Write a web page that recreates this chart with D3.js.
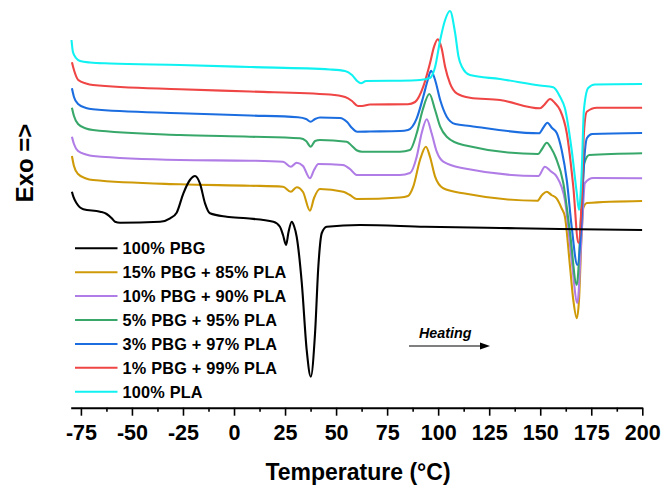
<!DOCTYPE html>
<html>
<head>
<meta charset="utf-8">
<script src="https://cdn.jsdelivr.net/npm/d3@7"></script>
<style>
  html, body { margin: 0; padding: 0; background: #fff; }
  svg { display: block; font-family: "Liberation Sans", Arial, sans-serif; }
</style>
</head>
<body>
<svg id="chart" width="664" height="489"></svg>
<script>
// ---- Data: temperature (°C) vs. heat flow (arbitrary, shifted units) ----
const pbg100 = [[-79.4,21.63],[-78.7,21.13],[-77.1,20.47],[-73.8,19.87],[-65.6,19.63],[-62.4,19.4],[-59.9,18.97],[-58.3,18.63],[-55.8,18.53],[-36.2,18.63],[-31.3,18.97],[-28.1,19.53],[-24.8,21.47],[-21.6,22.8],[-19.1,23.2],[-16.7,22.47],[-14.2,20.47],[-11.8,19.47],[-3.6,19.13],[6.2,18.97],[19.3,18.63],[22.5,18.13],[24.0,17.3],[25.5,16.3],[26.7,17.6],[28.3,18.63],[29.4,18.2],[30.7,17.13],[33.2,12.5],[35.6,5.8],[37.6,3.13],[39.7,7.5],[41.3,14.13],[43.0,17.5],[45.4,18.13],[61.7,18.3],[93.6,18.13],[130.3,18.0],[159.7,17.9],[199.9,17.8]];
const pbg15 = [[-79.4,25.2],[-78.4,24.2],[-76.4,23.4],[-72.5,22.95],[-69.1,22.8],[-26.5,22.37],[7.8,22.23],[24.0,22.13],[27.8,21.63],[30.7,22.07],[33.8,21.6],[37.2,19.73],[39.2,21.0],[42.1,21.9],[53.5,21.63],[56.8,21.3],[60.1,20.9],[81.3,21.05],[85.2,21.2],[87.8,22.13],[91.1,24.8],[94.0,26.13],[96.0,25.13],[98.5,23.13],[102.5,21.97],[112.3,21.47],[148.6,20.73],[150.9,21.3],[153.2,21.63],[155.5,21.3],[158.0,20.97],[160.5,19.97],[162.1,19.13],[164.6,14.13],[166.2,10.8],[167.9,8.97],[169.0,10.8],[170.3,17.5],[171.1,20.0],[172.9,20.5],[199.9,20.7]];
const pbg10 = [[-79.4,27.13],[-78.4,26.4],[-76.4,25.7],[-72.5,25.35],[-69.1,25.2],[-26.5,24.8],[7.8,24.73],[24.0,24.63],[27.8,24.13],[30.7,24.53],[33.8,24.2],[37.2,22.97],[39.2,23.8],[41.3,24.4],[53.4,24.3],[56.8,23.9],[60.1,23.3],[81.3,23.3],[86.2,23.5],[89.5,25.13],[91.9,27.47],[94.4,28.87],[96.8,27.47],[99.3,25.63],[102.5,24.63],[112.3,23.97],[149.1,23.2],[152.3,24.13],[155.0,23.7],[158.1,23.13],[162.1,20.8],[165.4,14.8],[168.2,10.5],[170.3,17.5],[171.9,22.5],[175.9,23.0],[199.9,22.97]];
const pbg5 = [[-79.4,30.03],[-78.4,29.2],[-76.4,28.4],[-72.5,27.95],[-69.1,27.8],[-26.5,27.3],[7.8,27.13],[32.3,26.97],[35.3,26.7],[37.6,26.13],[39.7,26.7],[42.1,26.8],[55.2,26.63],[57.8,26.2],[60.3,25.75],[62.7,25.63],[81.3,25.63],[86.2,25.8],[89.5,27.47],[92.4,29.8],[95.7,31.4],[98.5,29.8],[101.0,28.13],[104.2,27.13],[112.3,26.3],[148.9,25.4],[150.9,25.9],[153.2,26.53],[155.3,26.0],[157.7,25.0],[161.3,22.5],[164.6,17.5],[167.9,12.3],[170.0,19.13],[171.6,24.47],[174.0,25.3],[199.9,25.47]];
const pbg3 = [[-79.4,31.97],[-78.4,31.1],[-76.4,30.4],[-72.5,30.0],[-69.1,29.87],[-26.5,29.47],[7.8,29.25],[31.3,29.07],[35.3,28.9],[37.5,28.63],[39.7,28.9],[42.1,29.05],[51.9,29.0],[55.4,28.6],[57.8,28.0],[60.3,27.63],[66.6,27.65],[81.3,27.7],[85.2,27.8],[89.5,28.97],[92.7,31.13],[94.9,32.8],[96.5,33.73],[98.5,32.8],[101.0,30.8],[104.2,29.13],[108.3,28.4],[115.6,28.2],[149.4,27.47],[151.4,28.0],[153.5,28.53],[155.8,28.0],[158.1,27.5],[160.5,25.8],[163.0,22.8],[165.4,18.13],[168.2,14.3],[170.0,17.8],[171.4,24.3],[172.9,27.0],[175.4,27.4],[199.9,27.5]];
const pbg1 = [[-79.4,34.57],[-78.4,33.8],[-76.3,32.8],[-72.5,32.45],[-69.1,32.3],[-26.5,31.87],[7.8,31.65],[47.0,31.35],[54.4,31.1],[57.8,30.7],[60.7,30.2],[62.7,30.2],[66.6,30.35],[85.2,30.37],[88.7,30.6],[92.7,32.13],[96.0,34.47],[98.0,36.13],[99.8,36.87],[101.7,35.97],[103.4,34.13],[105.8,32.47],[109.1,31.47],[115.6,31.03],[130.3,30.8],[149.9,29.97],[151.9,30.3],[154.8,30.9],[157.2,30.5],[159.7,29.8],[163.0,27.5],[166.2,22.1],[168.7,16.5],[170.3,20.8],[171.4,27.5],[172.8,29.63],[177.7,30.03],[199.9,30.03]];
const pla100 = [[-79.6,36.8],[-78.9,35.6],[-77.4,35.0],[-75.4,34.7],[-70.5,34.55],[-60.7,34.45],[-26.5,34.3],[7.8,34.1],[47,33.85],[54.4,33.7],[57.8,33.3],[60.3,32.7],[62.2,32.47],[64.7,32.7],[81.3,32.73],[91.1,32.8],[96,33.0],[98.5,34.1],[101.0,36.8],[103.4,38.8],[105.8,39.7],[108.3,37.5],[110.0,35.1],[111.7,34.1],[115.6,33.3],[130.3,32.9],[149.9,32.25],[156.4,32.07],[159.7,31.13],[162.1,29.97],[165.4,25.8],[167.9,21.5],[169.0,19.8],[170.3,23.5],[171.4,29.8],[173.5,32.0],[176.8,32.35],[199.9,32.4]];

const seriesNames = ["100% PBG", "15% PBG + 85% PLA", "10% PBG + 90% PLA", "5% PBG + 95% PLA", "3% PBG + 97% PLA", "1% PBG + 99% PLA", "100% PLA"];
const seriesData = [pbg100, pbg15, pbg10, pbg5, pbg3, pbg1, pla100];
const seriesColors = ["#000000", "#cf9a08", "#b07ce6", "#38a86a", "#1c6ee0", "#ef4545", "#10f2f2"];
const tempTicks = [-75, -50, -25, 0, 25, 50, 75, 100, 125, 150, 175, 200];
const minorTicks = [-62.5, -37.5, -12.5, 12.5, 37.5, 62.5, 87.5, 112.5, 137.5, 162.5, 187.5];

// ---- Layout ----
const svg = d3.select("#chart");
const x = d3.scaleLinear().domain([-80, 200]).range([70.7, 642.3]);
const y = d3.scaleLinear().domain([0, 40]).range([408, 8]);
const axisY = 407.7;

const line = d3.line()
  .x(d => x(d[0]))
  .y(d => y(d[1]))
  .curve(d3.curveMonotoneX);

// draw colored series first, black on top
const drawOrder = [1, 2, 3, 4, 5, 6, 0];
svg.append("g").selectAll("path")
  .data(drawOrder)
  .join("path")
  .attr("d", i => line(seriesData[i]))
  .attr("fill", "none")
  .attr("stroke", i => seriesColors[i])
  .attr("stroke-width", 2.1)
  .attr("stroke-linejoin", "round");

// ---- X axis ----
const gx = svg.append("g").attr("transform", `translate(0,${axisY})`);
gx.call(d3.axisBottom(x).tickValues(tempTicks).tickSize(8).tickSizeOuter(0).tickPadding(9).tickFormat(d3.format("d")));
gx.select(".domain").attr("stroke", "#000").attr("stroke-width", 2);
gx.selectAll(".tick line").attr("stroke", "#000").attr("stroke-width", 1.6);
gx.selectAll(".tick text")
  .attr("fill", "#000")
  .style("font-family", '"Liberation Sans", Arial, sans-serif')
  .style("font-weight", "bold")
  .style("font-size", "21.5px")
  .text(d => d < 0 ? "-" + Math.abs(d) : d);

const gm = svg.append("g").attr("transform", `translate(0,${axisY})`);
gm.call(d3.axisBottom(x).tickValues(minorTicks).tickSize(4).tickFormat(""));
gm.select(".domain").remove();
gm.selectAll(".tick line").attr("stroke", "#000").attr("stroke-width", 1.6);

// ---- Axis titles ----
svg.append("text")
  .attr("x", 358).attr("y", 480)
  .attr("text-anchor", "middle")
  .style("font-weight", "bold").style("font-size", "23px")
  .text("Temperature (°C)");

svg.append("text")
  .attr("transform", "translate(33,163) rotate(-90)")
  .attr("text-anchor", "middle")
  .style("font-weight", "bold").style("font-size", "24px")
  .text("Exo =>");

// ---- Legend ----
const legend = svg.append("g");
const legendY0 = 248.3, legendStep = 23.9;
seriesNames.forEach((name, i) => {
  const yy = legendY0 + i * legendStep;
  legend.append("line")
    .attr("x1", 75).attr("x2", 117.5).attr("y1", yy).attr("y2", yy)
    .attr("stroke", seriesColors[i]).attr("stroke-width", 2);
  legend.append("text")
    .attr("x", 122.5).attr("y", yy + 6)
    .style("font-weight", "bold").style("font-size", "16.3px")
    .style("letter-spacing", "0.2px")
    .text(name);
});

// ---- Heating annotation ----
svg.append("text")
  .attr("x", 419).attr("y", 338)
  .style("font-weight", "bold").style("font-style", "italic").style("font-size", "14.3px")
  .text("Heating");
svg.append("line")
  .attr("x1", 409).attr("x2", 481).attr("y1", 346).attr("y2", 346)
  .attr("stroke", "#000").attr("stroke-width", 1.2);
svg.append("path")
  .attr("d", "M480,342.5 L490,346 L480,349.5 Z")
  .attr("fill", "#000");
</script>
</body>
</html>
